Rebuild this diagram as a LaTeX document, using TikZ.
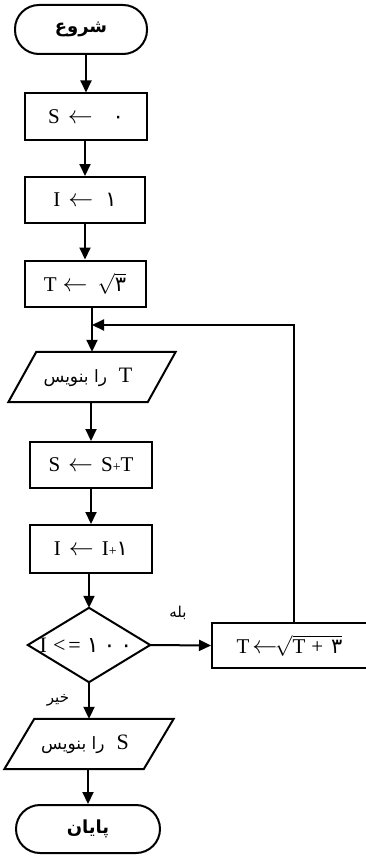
\documentclass[tikz,border=0pt]{standalone}
\usepackage{fontspec}
\setmainfont{Liberation Serif}
\newfontfamily\fa[Script=Arabic]{DejaVu Sans}
\TeXXeTstate=1
\usetikzlibrary{arrows.meta,calc}
\newcommand\myarrow{{\fontsize{25}{26}\selectfont$\leftarrow$}}
\begin{document}
\begin{tikzpicture}[x=1pt,y=1pt,
 box/.style={draw,line width=2pt,minimum width=#1,minimum height=46pt,inner sep=0pt,font=\fontsize{21}{24}\selectfont},
 box/.default=122pt,
 term/.style={draw,line width=2pt,rounded corners=24pt,minimum width=#1,minimum height=49pt,inner sep=0pt,font=\fa\bfseries\fontsize{18}{22}\selectfont},
 io/.style={minimum width=139pt,minimum height=50pt,inner sep=0pt,font=\fontsize{22}{24}\selectfont},
 ln/.style={line width=2pt},
 arr/.style={line width=2pt,-{Triangle[width=11pt,length=12pt]}},
 lab/.style={font=\fa\fontsize{15}{17}\selectfont,inner sep=0pt}]
\useasboundingbox (0,0) rectangle (365,-856);
% nodes
\node[term=132pt] (start) at (81,-29.5) {\beginR شروع\endR};
\node[box] (s0) at (86,-116.5) {S\hspace{8pt}\myarrow\hspace{20pt}{\fa ۰}};
\node[box=120pt] (i1) at (85,-200) {I\hspace{8pt}\myarrow\hspace{12pt}{\fa ۱}};
\node[box=121pt] (tsq) at (85,-283.5) {T\hspace{6pt}\myarrow\hspace{10pt}$\sqrt{\hbox{\fa ۳}}$};
\coordinate (merge) at (92,-325);
\node[io] (w1) at (92,-377) {\hspace{-8pt}{\fa\fontsize{17}{20}\selectfont\beginR را بنویس\endR}\hspace{12pt}T};
\node[box] (st) at (91,-465) {S\hspace{8pt}\myarrow\hspace{8pt}S{\fontsize{14}{16}\selectfont+}T};
\node[box=122pt,minimum height=48pt] (ip1) at (91,-549) {I\hspace{8pt}\myarrow\hspace{8pt}I{\fontsize{14}{16}\selectfont+}{\fa ۱}};
\node[minimum width=122pt,minimum height=74pt,inner sep=0pt,font=\fontsize{22}{24}\selectfont] (dec) at (89,-645) {\hspace{-6pt}I\hspace{6pt}<\hspace{3pt}=\hspace{6pt}{\fa ۱\hspace{5pt}۰\hspace{5pt}۰}};
\node[box=163pt,minimum height=45pt] (tb) at (293.5,-645.5) {\hspace{-8pt}T\hspace{3pt}\myarrow\hspace{-2pt}$\sqrt{\hbox{T\hspace{6pt}+\hspace{8pt}{\fa ۳}}}$};
\node[io] (ws) at (89,-744) {\hspace{-8pt}{\fa\fontsize{17}{20}\selectfont\beginR را بنویس\endR}\hspace{12pt}S};
\node[term=144pt,minimum height=48pt] (stop) at (88,-829) {\beginR پایان\endR};
\node[lab] (yes) at (178,-613) {\beginR بله\endR};
\node[lab] (no) at (58,-700) {\beginR خیر\endR};
% shapes drawn from anchors
\draw[ln] ($(w1.north west)+(14,0)$) -- ($(w1.north east)+(14,0)$) -- ($(w1.south east)+(-14,0)$) -- ($(w1.south west)+(-14,0)$) -- cycle;
\draw[ln] ($(ws.north west)+(15,0)$) -- ($(ws.north east)+(15,0)$) -- ($(ws.south east)+(-15,0)$) -- ($(ws.south west)+(-15,0)$) -- cycle;
\draw[ln] (dec.west) -- (dec.north) -- (dec.east) -- (dec.south) -- cycle;
% connectors
\draw[arr] (start.south -| s0) -- (s0.north);
\draw[arr] (s0.south -| i1) -- (i1.north);
\draw[arr] (i1.south -| tsq) -- (tsq.north);
\draw[ln] (tsq.south -| merge) -- (merge);
\draw[arr] (merge) -- (w1.north);
\draw[arr] (w1.south -| st) -- (st.north);
\draw[arr] (st.south -| ip1) -- (ip1.north);
\draw[arr] (ip1.south -| dec) -- (dec.north);
\draw[arr] (dec.east) -- (tb.west);
\draw[arr] (tb.north) |- (merge);
\draw[arr] (dec.south) -- (ws.north);
\draw[arr] (ws.south -| stop) -- (stop.north);
\end{tikzpicture}
\end{document}
